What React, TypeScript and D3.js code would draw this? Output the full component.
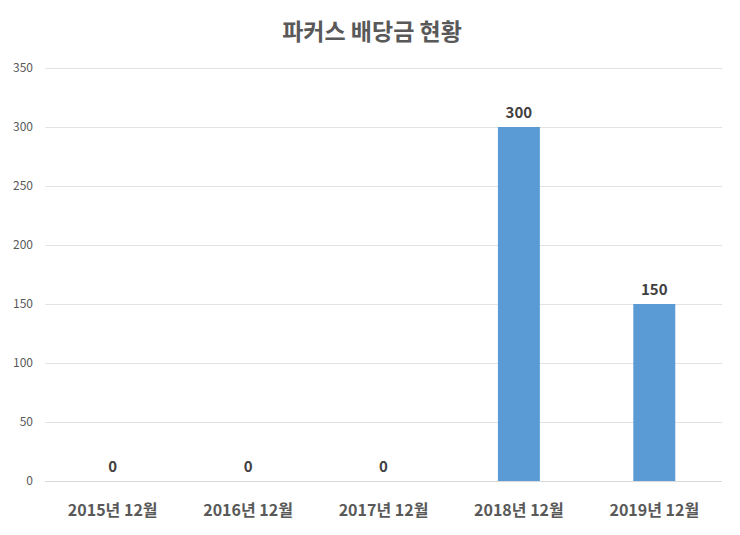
import { useEffect, useRef } from 'react';
import * as d3 from "d3";

const title = "파커스 배당금 현황";
const categories = ["2015년 12월", "2016년 12월", "2017년 12월", "2018년 12월", "2019년 12월"];
const dividends = [0, 0, 0, 300, 150];
const yTicks = [0, 50, 100, 150, 200, 250, 300, 350];

const App: React.FC = () => {
    const ref = useRef<SVGSVGElement | null>(null);

    useEffect(() => {
        if (!ref.current) return;
        const width = 740;
        const height = 535;
        const margin = { top: 68, right: 18, bottom: 54, left: 45 };
        const innerWidth = width - margin.left - margin.right;
        const innerHeight = height - margin.top - margin.bottom;
        const font = "'Noto Sans CJK KR', 'Open Sans', sans-serif";

        const svg = d3.select(ref.current)
            .attr("width", width)
            .attr("height", height);
        svg.selectAll("*").remove();

        svg.append("rect").attr("width", width).attr("height", height).attr("fill", "white");

        // 제목
        svg.append("text")
            .attr("x", width / 2 + 2)
            .attr("y", 40)
            .attr("text-anchor", "middle")
            .attr("font-family", font)
            .attr("font-weight", "bold")
            .attr("font-size", "23px")
            .attr("fill", "#595959")
            .text(title);

        const x = d3.scaleBand()
            .domain(categories)
            .range([0, innerWidth])
            .paddingInner(0.69)
            .paddingOuter(0.345);

        const y = d3.scaleLinear()
            .domain([0, 350])
            .range([innerHeight, 0]);

        const g = svg.append("g")
            .attr("transform", `translate(${margin.left}, ${margin.top})`);

        // 그리드
        g.selectAll(".grid")
            .data(yTicks)
            .enter()
            .append("line")
            .attr("x1", 0)
            .attr("x2", innerWidth)
            .attr("y1", d => y(d) + 0.5)
            .attr("y2", d => y(d) + 0.5)
            .attr("stroke", d => d === 0 ? "#d9d9d9" : "#e3e3e3")
            .attr("stroke-width", 1);

        // y축 레이블
        g.selectAll(".ytick")
            .data(yTicks)
            .enter()
            .append("text")
            .attr("x", -12)
            .attr("y", d => y(d))
            .attr("dy", "0.35em")
            .attr("text-anchor", "end")
            .attr("font-family", font)
            .attr("font-size", "12px")
            .attr("fill", "#595959")
            .text(d => `${d}`);

        // 막대
        g.selectAll(".bar")
            .data(dividends)
            .enter()
            .append("rect")
            .attr("x", (_, i) => x(categories[i]) || 0)
            .attr("y", d => y(d))
            .attr("width", x.bandwidth())
            .attr("height", d => innerHeight - y(d))
            .attr("fill", "#5b9bd5");

        // 값 레이블
        g.selectAll(".label")
            .data(dividends)
            .enter()
            .append("text")
            .attr("x", (_, i) => (x(categories[i]) || 0) + x.bandwidth() / 2)
            .attr("y", d => y(d) - 9)
            .attr("text-anchor", "middle")
            .attr("font-family", font)
            .attr("font-weight", "bold")
            .attr("font-size", "15px")
            .attr("fill", "#404040")
            .text(d => `${d}`);

        // x축 레이블
        g.selectAll(".xtick")
            .data(categories)
            .enter()
            .append("text")
            .attr("x", d => (x(d) || 0) + x.bandwidth() / 2)
            .attr("y", innerHeight + 35)
            .attr("text-anchor", "middle")
            .attr("font-family", font)
            .attr("font-weight", "bold")
            .attr("font-size", "16px")
            .attr("fill", "#595959")
            .text(d => d);
    }, []);

    return (
        <div style={{ position: "absolute", left: 0, top: 0 }}>
            <svg ref={ref}></svg>
        </div>
    );
};

export default App;
